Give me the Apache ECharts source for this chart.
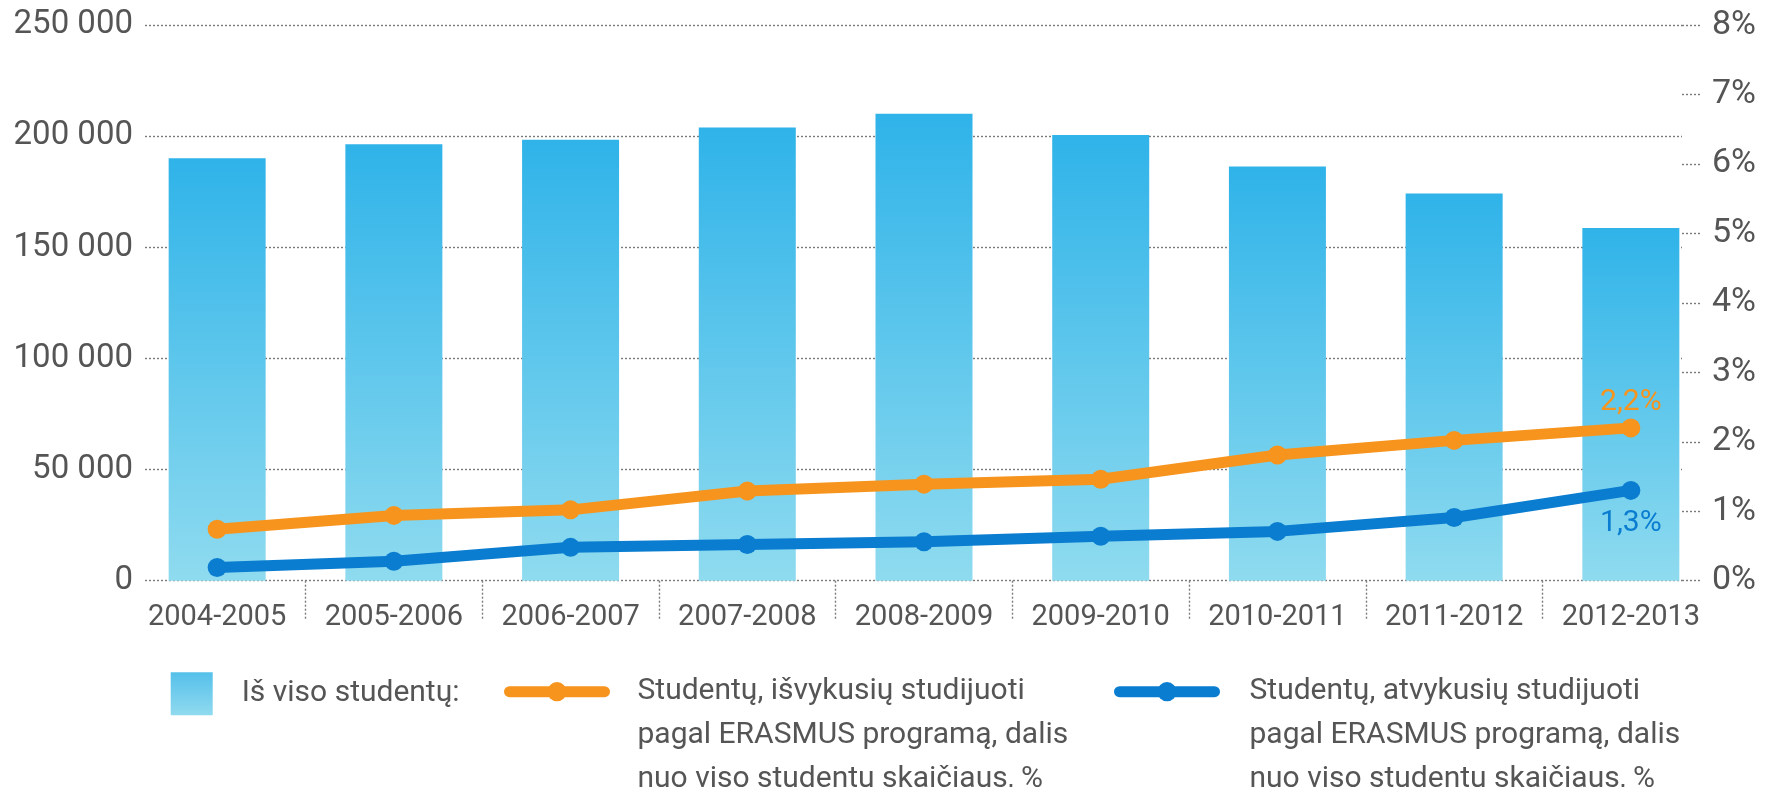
<!DOCTYPE html>
<html>
<head>
<meta charset="utf-8">
<script src="https://cdn.jsdelivr.net/npm/echarts@6/dist/echarts.min.js"></script>
<style>
  html, body { margin: 0; padding: 0; background: #fff; }
  #chart { width: 1765px; height: 787px; }
</style>
</head>
<body>
<div id="chart"></div>
<script>
// Mokslo metai
const categories = ['2004-2005', '2005-2006', '2006-2007', '2007-2008', '2008-2009',
                    '2009-2010', '2010-2011', '2011-2012', '2012-2013'];
// Iš viso studentų
const totalStudents = [190000, 196300, 198400, 203900, 210100, 200500, 186300, 174200, 158700];
// Išvykusių pagal ERASMUS dalis, %
const outgoingShare = [0.74, 0.94, 1.02, 1.29, 1.39, 1.46, 1.81, 2.02, 2.2];
// Atvykusių pagal ERASMUS dalis, %
const incomingShare = [0.19, 0.28, 0.48, 0.52, 0.56, 0.64, 0.71, 0.91, 1.3];

const leftTicks = { min: 0, max: 250000, step: 50000 };
const rightTicks = { min: 0, max: 8, step: 1 };

const barName = 'Iš viso studentų:';
const outName = 'Studentų, išvykusių studijuoti\npagal ERASMUS programą, dalis\nnuo viso studentų skaičiaus, %';
const inName = 'Studentų, atvykusių studijuoti\npagal ERASMUS programą, dalis\nnuo viso studentų skaičiaus, %';

const chartWidth = 1765;
const plotTop = 25, plotBottom = 206.3;
const plotLeft = 128.8, plotRight = 45.8;
const band = (chartWidth - plotLeft - plotRight) / categories.length;

const textColor = '#555';
const dotted = { color: '#7a7a7a', width: 1.4, type: [2, 2] };
const orange = '#f7941d';
const blue = '#0a7dd0';

function thousands(v) {
  return String(v).replace(/\B(?=(\d{3})+(?!\d))/g, ' ');
}
function pct(v) {
  return v.toFixed(1).replace('.', ',') + '%';
}
// two blank lines above the name keep its first line level with the icon
function firstLineOnIcon(name) {
  return '\n\n' + name;
}

const chart = echarts.init(document.getElementById('chart'), null, { renderer: 'canvas' });

const lineLegend = {
  selectedMode: false, padding: 0, top: 581.7,
  itemWidth: 95, itemHeight: 24,
  lineStyle: { width: 11, cap: 'round' },
  formatter: firstLineOnIcon
};

chart.setOption({
  animation: false,
  textStyle: { fontFamily: 'Roboto' },
  grid: [
    // data
    { left: plotLeft, right: plotRight, top: plotTop, bottom: plotBottom, outerBoundsMode: 'none' },
    // gridlines and value axes
    { left: 145, right: 83, top: plotTop, bottom: plotBottom, outerBoundsMode: 'none' },
    // category separators
    { left: plotLeft + band / 2, right: plotRight + band / 2, top: plotTop, bottom: plotBottom, outerBoundsMode: 'none' }
  ],
  xAxis: [
    {
      gridIndex: 0, type: 'category', data: categories,
      axisLine: { show: false }, axisTick: { show: false },
      axisLabel: { color: textColor, fontSize: 29, margin: 23, interval: 0 }
    },
    { gridIndex: 1, type: 'value', show: false },
    {
      gridIndex: 2, type: 'category', data: categories.slice(1),
      offset: 7,
      axisLine: { show: false },
      axisTick: { show: true, alignWithLabel: true, length: 40, lineStyle: dotted },
      axisLabel: { show: false }
    }
  ],
  yAxis: [
    { gridIndex: 0, type: 'value', min: leftTicks.min, max: leftTicks.max, interval: leftTicks.step, show: false },
    { gridIndex: 0, type: 'value', min: rightTicks.min, max: rightTicks.max, interval: rightTicks.step, show: false },
    {
      gridIndex: 1, type: 'value', position: 'left',
      min: leftTicks.min, max: leftTicks.max, interval: leftTicks.step,
      axisLine: { show: false }, axisTick: { show: false },
      splitLine: { show: true, lineStyle: dotted },
      axisLabel: { color: textColor, fontSize: 33, margin: 12, formatter: thousands }
    },
    {
      gridIndex: 1, type: 'value', position: 'right',
      min: rightTicks.min, max: rightTicks.max, interval: rightTicks.step,
      axisLine: { show: false },
      axisTick: { show: true, length: 18, lineStyle: dotted },
      splitLine: { show: false },
      axisLabel: { color: textColor, fontSize: 34, margin: 30, formatter: v => v + '%' }
    },
    { gridIndex: 2, type: 'value', show: false }
  ],
  legend: [
    {
      selectedMode: false, padding: 0, left: 170.7, top: 672.3,
      data: [barName], icon: 'rect', itemWidth: 42, itemHeight: 43,
      itemStyle: {
        color: new echarts.graphic.LinearGradient(0, 0, 0, 1, [
          { offset: 0, color: '#55c0ea' }, { offset: 1, color: '#90daef' }
        ])
      },
      textStyle: { color: textColor, fontSize: 30, padding: [0, 0, 0, 24] }
    },
    Object.assign({}, lineLegend, {
      left: 504, data: [outName],
      textStyle: { color: textColor, fontSize: 30, lineHeight: 44, padding: [0, 0, 0, 28] }
    }),
    Object.assign({}, lineLegend, {
      left: 1114, data: [inName],
      textStyle: { color: textColor, fontSize: 30, lineHeight: 44, padding: [0, 0, 0, 30] }
    })
  ],
  series: [
    {
      name: barName, type: 'bar', xAxisIndex: 0, yAxisIndex: 0,
      data: totalStudents, barWidth: 97, z: 2,
      itemStyle: {
        color: new echarts.graphic.LinearGradient(0, 0, 0, 1, [
          { offset: 0, color: '#2fb3e9' }, { offset: 1, color: '#8fdbef' }
        ])
      }
    },
    {
      name: outName, type: 'line', xAxisIndex: 0, yAxisIndex: 1,
      data: outgoingShare, z: 4,
      symbol: 'circle', symbolSize: 19,
      itemStyle: { color: orange },
      lineStyle: { color: orange, width: 11, join: 'round', cap: 'round' },
      label: {
        show: true, position: 'top', distance: 1, color: orange, fontSize: 30,
        formatter: p => (p.dataIndex === outgoingShare.length - 1 ? pct(p.value) : '')
      }
    },
    {
      name: inName, type: 'line', xAxisIndex: 0, yAxisIndex: 1,
      data: incomingShare, z: 4,
      symbol: 'circle', symbolSize: 19,
      itemStyle: { color: blue },
      lineStyle: { color: blue, width: 11, join: 'round', cap: 'round' },
      label: {
        show: true, position: 'bottom', distance: 9, color: blue, fontSize: 30,
        formatter: p => (p.dataIndex === incomingShare.length - 1 ? pct(p.value) : '')
      }
    }
  ]
});
</script>
</body>
</html>
